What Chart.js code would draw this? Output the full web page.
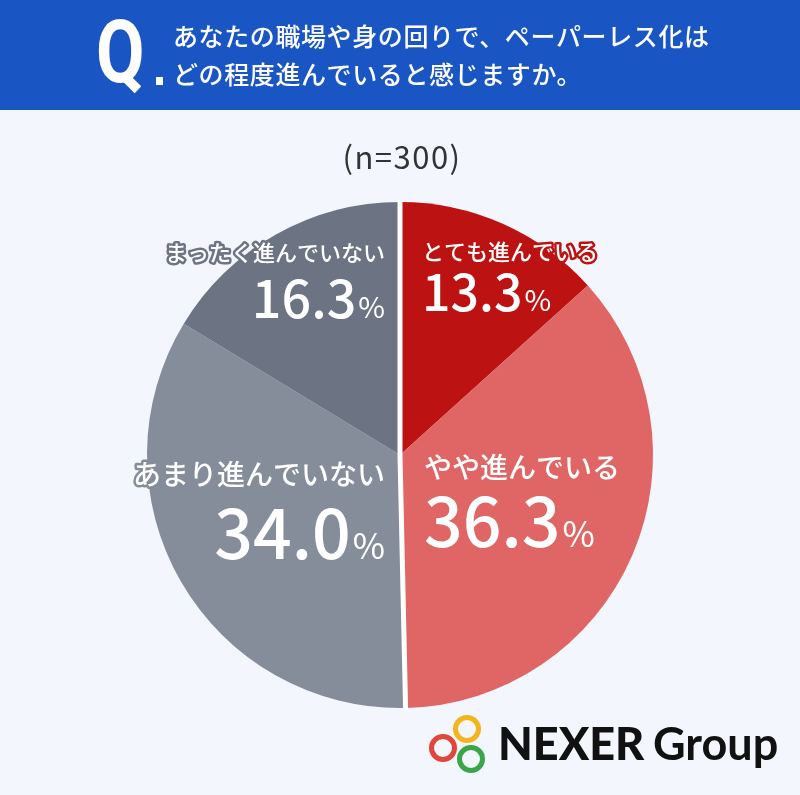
<!DOCTYPE html>
<html lang="ja">
<head>
<meta charset="utf-8">
<title>ペーパーレス化の進み具合</title>
<script src="https://cdn.jsdelivr.net/npm/chart.js@4.4.1/dist/chart.umd.min.js"></script>
<style>
    html, body { margin: 0; padding: 0; background: #f3f6fd; }
    #wrap { position: relative; width: 800px; height: 795px; }
</style>
</head>
<body>
<div id="wrap"><canvas id="pieChart"></canvas></div>
<script>
// --- Data ---
const categories = ['とても進んでいる', 'やや進んでいる', 'あまり進んでいない', 'まったく進んでいない'];
const percents = [13.3, 36.3, 34.0, 16.3];
const sampleSize = 300;
const questionLines = ['あなたの職場や身の回りで、ペーパーレス化は', 'どの程度進んでいると感じますか。'];

const JP = '"Noto Sans CJK JP", "Noto Sans", sans-serif';

// --- Header, sample size and logo drawn around the pie ---
const framePlugin = {
    id: 'frame',
    beforeDraw(chart) {
        const ctx = chart.ctx;
        ctx.save();
        ctx.fillStyle = '#f3f6fd';
        ctx.fillRect(0, 0, chart.width, chart.height);

        // blue question band
        ctx.fillStyle = '#1a55c4';
        ctx.fillRect(0, 0, chart.width, 110);

        ctx.fillStyle = '#ffffff';
        ctx.textBaseline = 'alphabetic';
        ctx.save();
        ctx.translate(96, 82);
        ctx.scale(0.8, 1);
        ctx.font = '700 88px Roboto';
        ctx.fillText('Q', 0, 0);
        ctx.restore();
        ctx.fillRect(156, 77, 7, 8);

        ctx.font = '500 25px ' + JP;
        ctx.letterSpacing = '0.6px';
        ctx.fillText(questionLines[0], 173, 46);
        ctx.fillText(questionLines[1], 173, 84);
        ctx.letterSpacing = '0px';

        // (n=300)
        ctx.fillStyle = '#333333';
        ctx.font = '400 31px ' + JP;
        ctx.letterSpacing = '1.5px';
        ctx.textAlign = 'center';
        ctx.fillText('(n=' + sampleSize + ')', 402, 169);
        ctx.letterSpacing = '0px';
        ctx.restore();
    },
    afterDraw(chart) {
        const ctx = chart.ctx;
        ctx.save();
        // NEXER rings
        const rings = [
            { x: 443, y: 748, c: '#e0463a' },
            { x: 467, y: 729, c: '#f2b51d' },
            { x: 471, y: 759, c: '#3aa64a' }
        ];
        ctx.lineWidth = 5;
        rings.forEach(r => {
            ctx.beginPath();
            ctx.strokeStyle = r.c;
            ctx.arc(r.x, r.y, 11.5, 0, Math.PI * 2);
            ctx.stroke();
        });
        ctx.fillStyle = '#111111';
        ctx.textBaseline = 'alphabetic';
        ctx.font = '900 45px Lato';
        ctx.fillText('NEXER', 498, 760);
        ctx.font = '700 45px Lato';
        ctx.fillText('Group', 653, 760);
        ctx.restore();
    }
};

// --- White divider between the "進んでいる" and "進んでいない" halves ---
const dividerPlugin = {
    id: 'divider',
    afterDatasetsDraw(chart) {
        const arcs = chart.getDatasetMeta(0).data;
        const ctx = chart.ctx;
        ctx.save();
        ctx.strokeStyle = '#ffffff';
        ctx.lineWidth = 5;
        [0, 2].forEach(i => {
            const a = arcs[i];
            ctx.beginPath();
            ctx.moveTo(a.x, a.y);
            ctx.lineTo(a.x + Math.cos(a.startAngle) * (a.outerRadius + 2),
                       a.y + Math.sin(a.startAngle) * (a.outerRadius + 2));
            ctx.stroke();
        });
        ctx.restore();
    }
};

// --- Labels inside each slice ---
const labelLayout = [
    { dx: 22, labelDy: -195, valueDy: -144, labelSize: 22, valueSize: 50, pctSize: 29 },
    { dx: 24, labelDy: 23, valueDy: 92, labelSize: 28, valueSize: 68, pctSize: 35 },
    { dx: -15, labelDy: 30, valueDy: 104, labelSize: 28, valueSize: 68, pctSize: 35 },
    { dx: -15, labelDy: -194, valueDy: -137, labelSize: 22, valueSize: 52, pctSize: 29 }
];

const sliceLabelPlugin = {
    id: 'sliceLabels',
    afterDatasetsDraw(chart) {
        const ctx = chart.ctx;
        const meta = chart.getDatasetMeta(0);
        const colors = chart.data.datasets[0].backgroundColor;
        ctx.save();
        ctx.textBaseline = 'alphabetic';
        ctx.lineJoin = 'round';
        meta.data.forEach((arc, i) => {
            const lay = labelLayout[i];
            const mid = (arc.startAngle + arc.endAngle) / 2;
            const right = Math.cos(mid) >= 0;
            const x = arc.x + lay.dx;

            // category name, outlined in the slice colour
            ctx.font = '500 ' + lay.labelSize + 'px ' + JP;
            ctx.textAlign = right ? 'left' : 'right';
            ctx.strokeStyle = colors[i];
            ctx.lineWidth = 5;
            ctx.strokeText(categories[i], x, arc.y + lay.labelDy);
            ctx.fillStyle = '#ffffff';
            ctx.fillText(categories[i], x, arc.y + lay.labelDy);

            // value + smaller %
            const num = percents[i].toFixed(1);
            const numFont = '500 ' + lay.valueSize + 'px ' + JP;
            const pctFont = '400 ' + lay.pctSize + 'px ' + JP;
            const vy = arc.y + lay.valueDy;
            ctx.textAlign = 'left';
            ctx.font = numFont;
            const numW = ctx.measureText(num).width;
            ctx.font = pctFont;
            const pctW = ctx.measureText('%').width;
            const startX = right ? x : x - numW - pctW - 2;
            ctx.font = numFont;
            ctx.fillText(num, startX, vy);
            ctx.font = pctFont;
            ctx.fillText('%', startX + numW + 2, vy);
        });
        ctx.restore();
    }
};

new Chart(document.getElementById('pieChart'), {
    type: 'pie',
    data: {
        labels: categories,
        datasets: [{
            data: percents,
            backgroundColor: ['#bd1212', '#e06565', '#858d9b', '#6c7484'],
            borderWidth: 0
        }]
    },
    options: {
        responsive: true,
        maintainAspectRatio: false,
        animation: false,
        radius: 253,
        layout: { padding: { top: 115, bottom: 0 } },
        plugins: {
            legend: { display: false },
            tooltip: { enabled: false }
        }
    },
    plugins: [framePlugin, dividerPlugin, sliceLabelPlugin]
});
</script>
</body>
</html>
